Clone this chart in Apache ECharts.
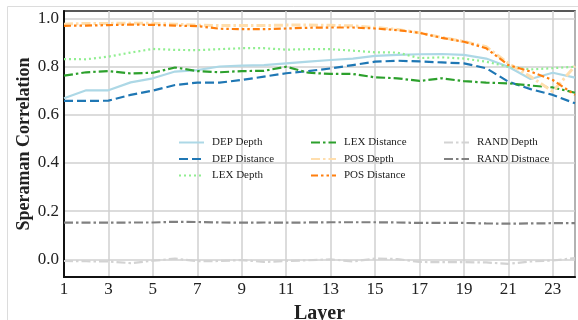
<!DOCTYPE html>
<html>
<head>
<meta charset="utf-8">
<script src="https://cdn.jsdelivr.net/npm/echarts@6/dist/echarts.min.js"></script>
<style>
html,body{margin:0;padding:0;background:#fff;}
#chart{width:578px;height:320px;}
</style>
</head>
<body>
<div id="chart"></div>
<script>
const layers = [1,2,3,4,5,6,7,8,9,10,11,12,13,14,15,16,17,18,19,20,21,22,23,24];
const xTicks = [1,3,5,7,9,11,13,15,17,19,21,23];
const yTicks = [0.0,0.2,0.4,0.6,0.8,1.0];

const depDepth = [0.669,0.702,0.702,0.735,0.752,0.780,0.786,0.801,0.805,0.807,0.814,0.821,0.828,0.834,0.845,0.849,0.852,0.853,0.849,0.834,0.800,0.749,0.775,0.755];
const depDistance = [0.658,0.658,0.659,0.683,0.701,0.724,0.734,0.734,0.745,0.759,0.773,0.782,0.793,0.807,0.821,0.825,0.822,0.818,0.814,0.794,0.738,0.707,0.683,0.648];
const lexDepth = [0.832,0.831,0.842,0.859,0.874,0.870,0.869,0.873,0.877,0.877,0.871,0.873,0.873,0.867,0.860,0.859,0.836,0.839,0.834,0.821,0.800,0.789,0.794,0.800];
const lexDistance = [0.763,0.777,0.782,0.772,0.775,0.797,0.782,0.777,0.782,0.783,0.800,0.775,0.770,0.770,0.756,0.752,0.741,0.752,0.740,0.734,0.731,0.722,0.714,0.692];
const posDepth = [0.977,0.980,0.980,0.981,0.980,0.977,0.973,0.971,0.971,0.971,0.973,0.973,0.972,0.970,0.963,0.955,0.941,0.922,0.905,0.883,0.814,0.759,0.697,0.803];
const posDistance = [0.970,0.971,0.973,0.975,0.974,0.971,0.969,0.958,0.956,0.956,0.959,0.962,0.963,0.963,0.959,0.952,0.941,0.920,0.904,0.877,0.807,0.780,0.745,0.683];
const randDepth = [-0.007,-0.008,-0.009,-0.016,-0.006,0.003,-0.008,-0.007,-0.003,-0.011,-0.007,-0.004,0.000,-0.009,0.003,0.001,-0.011,-0.012,-0.012,-0.013,-0.019,-0.009,-0.005,0.005];
const randDistance = [0.152,0.152,0.152,0.153,0.153,0.156,0.155,0.153,0.152,0.153,0.152,0.153,0.154,0.154,0.154,0.153,0.151,0.151,0.151,0.149,0.148,0.149,0.150,0.150];

const seriesNames = ['DEP Depth','DEP Distance','LEX Depth','LEX Distance','POS Depth','POS Distance','RAND Depth','RAND Distnace'];
const seriesData = [depDepth,depDistance,lexDepth,lexDistance,posDepth,posDistance,randDepth,randDistance];
const styles = [
  {color:'#add8e6', width:2.2, type:'solid'},
  {color:'#1f77b4', width:2.2, type:[9,4]},
  {color:'#90ee90', width:2.2, type:[2,3]},
  {color:'#2ca02c', width:2.2, type:[9,3,2.5,3]},
  {color:'#ffdead', width:3, type:[9,3,2.5,3]},
  {color:'#ff7f0e', width:2.2, type:[7,3,2.5,3,2.5,3]},
  {color:'#d3d3d3', width:2.2, type:[9,3,2.5,3]},
  {color:'#808080', width:2.2, type:[9,3,2.5,3]}
];

const FONT = '"Liberation Serif","DejaVu Serif",serif';
const chart = echarts.init(document.getElementById('chart'));

const series = seriesNames.map((n,i)=>({
  name:n, type:'line', symbol:'none', smooth:false,
  data: layers.map((l,j)=>[l, seriesData[i][j]]),
  lineStyle:{color:styles[i].color, width:styles[i].width, type:styles[i].type},
  itemStyle:{color:styles[i].color},
  z: 3+i
}));

const legendBase = {
  orient:'vertical', itemWidth:25, itemHeight:12, itemGap:5.5, top:137,
  itemStyle:{opacity:0, borderWidth:0},
  textStyle:{fontFamily:FONT, fontSize:11, color:'#222', padding:[0,0,0,3]},
  backgroundColor:'transparent', padding:0
};

chart.setOption({
  animation:false,
  backgroundColor:'#fff',
  graphic:[{type:'rect', z:-10, shape:{x:7.5,y:6.5,width:700,height:400}, style:{fill:'none', stroke:'#dcdcdc', lineWidth:1}}],
  grid:{left:64, right:3, top:11, bottom:43, outerBoundsMode:'none', containLabel:false, show:true, borderColor:'#222', borderWidth:1.5, backgroundColor:'transparent'},
  legend:[
    Object.assign({}, legendBase, {left:178, data:seriesNames.slice(0,3)}),
    Object.assign({}, legendBase, {left:310, data:seriesNames.slice(3,6)}),
    Object.assign({}, legendBase, {left:443, data:seriesNames.slice(6,8)})
  ],
  xAxis:{
    type:'value', min:1, max:24, interval:2,
    name:'Layer', nameLocation:'middle', nameGap:27, nameMoveOverlap:false,
    nameTextStyle:{fontFamily:FONT, fontSize:20, fontWeight:'bold', color:'#222'},
    axisLine:{show:true, onZero:false, lineStyle:{color:'#111', width:2}},
    axisTick:{show:false},
    axisLabel:{fontFamily:FONT, fontSize:17, color:'#222', margin:4, showMaxLabel:false},
    splitLine:{show:true, lineStyle:{color:'#d0d0d0', width:1.5}}
  },
  yAxis:{
    type:'value', min:-0.0735, max:1.0316,
    name:'Speraman Correlation', nameLocation:'middle', nameGap:31, nameMoveOverlap:false,
    nameTextStyle:{fontFamily:FONT, fontSize:18, fontWeight:'bold', color:'#222'},
    axisLine:{show:true, onZero:false, lineStyle:{color:'#111', width:2}},
    axisTick:{show:false, customValues:yTicks},
    axisLabel:{fontFamily:FONT, fontSize:17, color:'#222', margin:5, customValues:yTicks, formatter:v=>v.toFixed(1)},
    splitLine:{show:true, lineStyle:{color:'#d0d0d0', width:1.5}}
  },
  series:series
});
</script>
</body>
</html>
